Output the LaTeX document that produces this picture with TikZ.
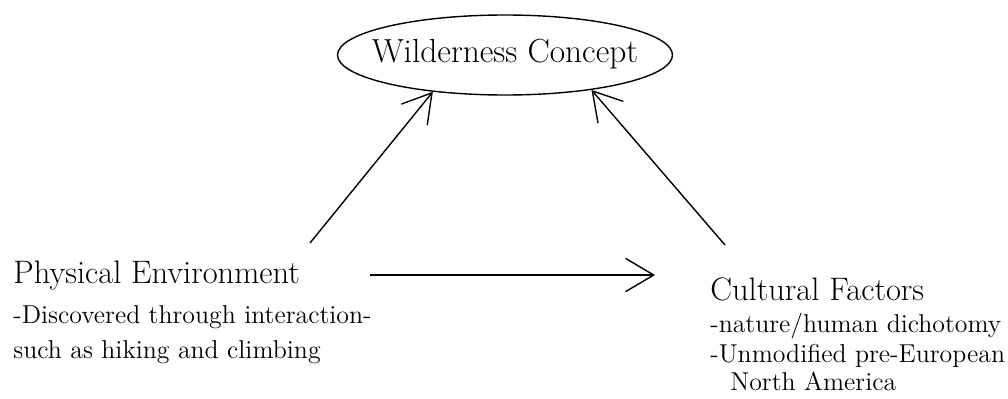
\documentclass[tikz,border=0pt]{standalone}
\usepackage{tikz}
\usetikzlibrary{arrows.meta,positioning,shapes.geometric}

\begin{document}
\begin{tikzpicture}[
      concept/.style={draw, ellipse, line width=0.8pt, inner sep=0pt,
                      minimum width=6.7cm, minimum height=1.6cm,
                      font=\fontsize{19}{21}\selectfont},
      heading/.style={anchor=base west, inner sep=0pt, font=\fontsize{18.5}{20}\selectfont},
      note/.style={anchor=base west, inner sep=0pt, font=\fontsize{14.7}{16}\selectfont},
      arr/.style={-{Straight Barb[length=16pt,width=19pt]}, line width=0.8pt}
    ]
      \useasboundingbox (0,0) rectangle (20.16,7.96);

      % Top: the concept
      \node[concept] (wild) at (10.10,6.86) {\makebox[0pt]{\raisebox{-0.5ex}[0pt][0pt]{Wilderness Concept}}};

      % Left: physical environment
      \node[heading] (phys) at (0.26,2.30) {Physical Environment};
      \node[note] (phys1) at (0.26,1.50) {-Discovered through interaction-};
      \node[note] (phys2) at (0.26,0.80) {such as hiking and climbing};

      % Right: cultural factors
      \node[heading] (cult) at (14.20,1.96) {Cultural Factors};
      \node[note] (cult1) at (14.20,1.32) {-nature/human dichotomy};
      \node[note] (cult2) at (14.20,0.72) {-Unmodified pre-European};
      \node[note] (cult3) at (14.60,0.16) {North America};

      % Arrow starts
      \coordinate (physup) at (6.20,3.10);
      \coordinate (cultup) at (14.50,3.06);

      \draw[arr] (physup) -- (wild.207);
      \draw[arr] (cultup) -- (wild.-22);
      \draw[arr] ([xshift=1.4cm]phys.east) -- ([xshift=-1.1cm]phys.east -| cult.west);
\end{tikzpicture}
\end{document}
